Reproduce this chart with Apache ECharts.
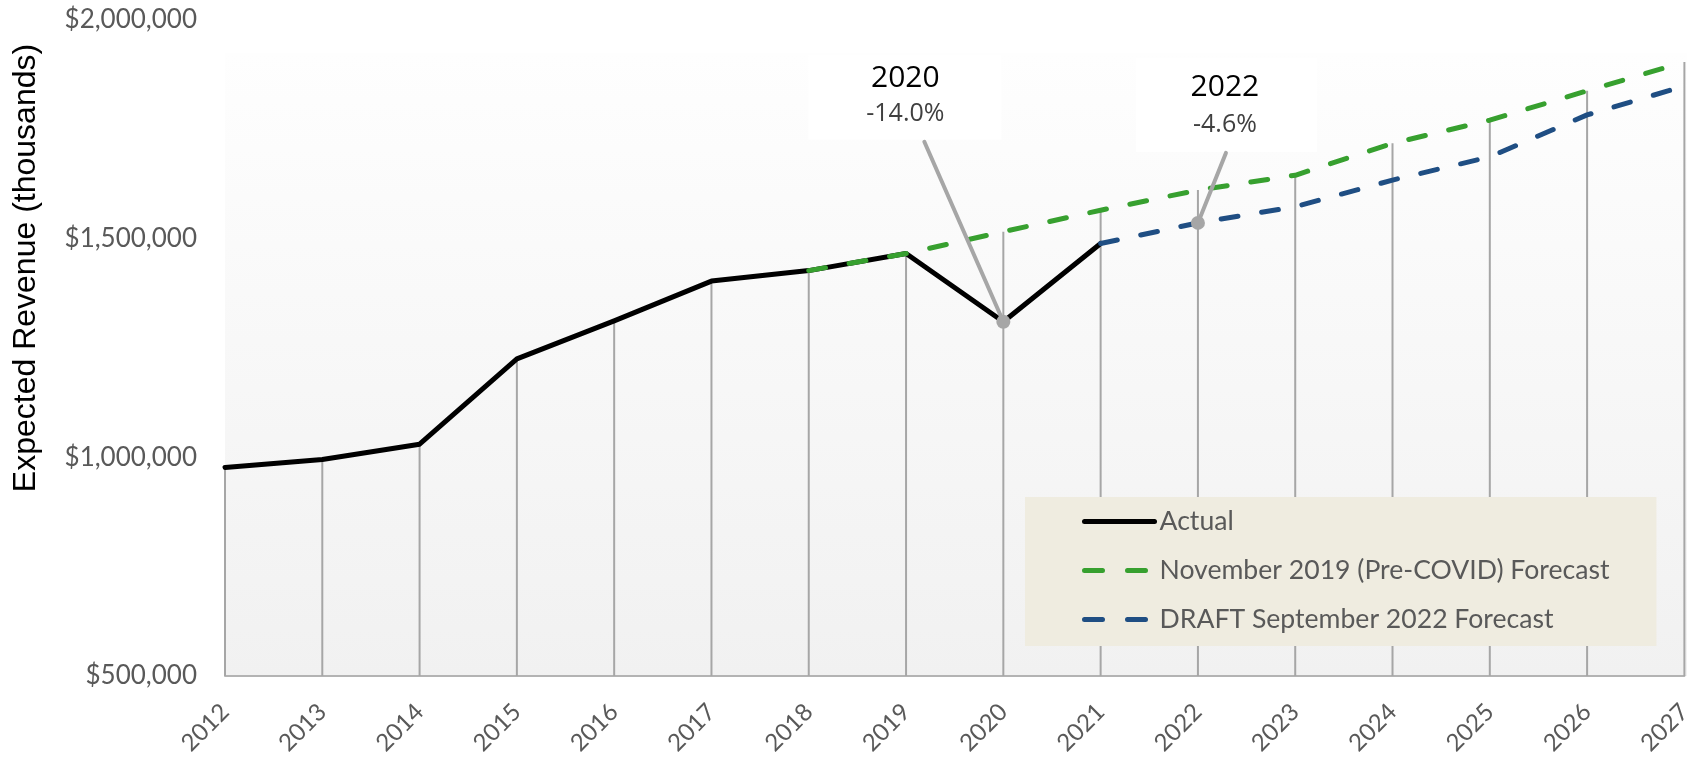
<!DOCTYPE html>
<html><head><meta charset="utf-8">
<script src="https://cdn.jsdelivr.net/npm/echarts@6/dist/echarts.min.js"></script>
<style>html,body{margin:0;padding:0;background:#fff}#c{width:1695px;height:761px}</style>
</head><body><div id="c"></div>
<script>
// ---- data ----
const years = ['2012','2013','2014','2015','2016','2017','2018','2019','2020','2021','2022','2023','2024','2025','2026','2027'];
const actual   = [977000, 995000, 1030000, 1225000, 1312000, 1403000, 1427000, 1466000, 1310000, 1489000, null, null, null, null, null, null];
const preCovid = [null, null, null, null, null, null, 1427000, 1466000, 1516000, 1565000, 1611000, 1645000, 1718000, 1771000, 1838000, 1904000];
const sept2022 = [null, null, null, null, null, null, null, null, null, 1489000, 1536000, 1573000, 1634000, 1687000, 1783000, 1849000];
const yMin = 500000, yMax = 2000000, yStep = 500000;
const seriesNames = ['Actual', 'November 2019 (Pre-COVID) Forecast', 'DRAFT September 2022 Forecast'];
const annoYears = ['2020', '2022'];
const annoPct = ['-14.0%', '-4.6%'];
const annoValues = [actual[years.indexOf('2020')], sept2022[years.indexOf('2022')]];

// ---- styles ----
const annoStyle = [
  {box:[-195,-267,193,85], year:[-98,-243], pct:[-98,-208], lead:[-79,-180]},
  {box:[-62,-165,181,94],  year:[27,-135],  pct:[27,-98],   lead:[28,-70]}
];
const GREEN = '#37a02f', BLUE = '#1f4e83', GRAY = '#a6a6a6';

const dropData = years.map((y, i) => {
  const vals = [actual[i], preCovid[i], sept2022[i]].filter(v => v != null);
  return [i, Math.max.apply(null, vals)];
});
const annoData = annoYears.map((y, k) => [years.indexOf(y), annoValues[k], k]);

const chart = echarts.init(document.getElementById('c'));
chart.setOption({
  animation: false,
  backgroundColor: '#ffffff',
  grid: {left: 225, right: 8, top: 20, bottom: 85, containLabel: false},
  graphic: [{
    type: 'rect', silent: true, z: -10,
    shape: {x: 225, y: 53, width: 1462, height: 623},
    style: {fill: new echarts.graphic.LinearGradient(0, 0, 0, 1, [
      {offset: 0, color: '#fefefe'}, {offset: 1, color: '#f1f1f1'}])}
  }],
  legend: {
    data: [
      {name: seriesNames[0], lineStyle: {width: 5, type: 'solid', cap: 'round'}},
      {name: seriesNames[1], lineStyle: {width: 5, type: [18, 25], cap: 'round'}},
      {name: seriesNames[2], lineStyle: {width: 5, type: [18, 25], cap: 'round'}}
    ],
    orient: 'vertical', left: 1025, top: 497,
    backgroundColor: '#efece0',
    padding: [11, 47, 13, 57],
    itemWidth: 70, itemHeight: 14, itemGap: 22,
    itemStyle: {opacity: 0},
    textStyle: {fontFamily: "Lato, sans-serif", fontSize: 26.6, color: '#595959', lineHeight: 24}
  },
  xAxis: {
    type: 'category', data: years, boundaryGap: false,
    axisLine: {lineStyle: {color: '#b3b3b3', width: 2}},
    axisTick: {show: false},
    splitLine: {show: false},
    axisLabel: {rotate: 45, margin: 32, fontFamily: 'Lato', fontSize: 24, color: '#595959'}
  },
  yAxis: {
    type: 'value', min: yMin, max: yMax, interval: yStep,
    name: 'Expected Revenue (thousands)', nameLocation: 'middle', nameGap: 183,
    nameTextStyle: {fontFamily: "'Liberation Sans', Arial, sans-serif", fontSize: 32, color: '#000', padding: [0, 0, 0, 160]},
    axisLine: {show: false}, axisTick: {show: false}, splitLine: {show: false},
    axisLabel: {margin: 28, fontFamily: 'Lato', fontSize: 26, color: '#595959',
      formatter: v => '$' + v.toLocaleString('en-US')}
  },
  series: [
    {
      type: 'custom', name: 'drop', silent: true, z: 1,
      encode: {x: 0, y: 1}, data: dropData,
      renderItem: (params, api) => {
        const top = api.coord([api.value(0), api.value(1)]);
        const bot = api.coord([api.value(0), yMin]);
        return {type: 'line', shape: {x1: top[0], y1: top[1], x2: bot[0], y2: bot[1]},
          style: {stroke: GRAY, lineWidth: 2}};
      }
    },
    {
      type: 'line', name: seriesNames[0], data: actual, symbol: 'none', z: 3,
      lineStyle: {color: '#000', width: 5, cap: 'round', join: 'round'}, itemStyle: {color: '#000'}
    },
    {
      type: 'line', name: seriesNames[1], data: preCovid, symbol: 'none', z: 4,
      lineStyle: {color: GREEN, width: 5, type: [17, 24], cap: 'round'}, itemStyle: {color: GREEN}
    },
    {
      type: 'line', name: seriesNames[2], data: sept2022, symbol: 'none', z: 4,
      lineStyle: {color: BLUE, width: 5, type: [17, 24], cap: 'round'}, itemStyle: {color: BLUE}
    },
    {
      type: 'custom', name: 'anno', silent: true, z: 10,
      encode: {x: 0, y: 1}, data: annoData,
      renderItem: (params, api) => {
        const k = api.value(2);
        const s = annoStyle[k];
        const p = api.coord([api.value(0), api.value(1)]);
        return {type: 'group', children: [
          {type: 'rect', shape: {x: p[0] + s.box[0], y: p[1] + s.box[1], width: s.box[2], height: s.box[3]},
            style: {fill: '#ffffff'}, z2: 0},
          {type: 'line', shape: {x1: p[0] + s.lead[0], y1: p[1] + s.lead[1], x2: p[0], y2: p[1]},
            style: {stroke: GRAY, lineWidth: 4, lineCap: 'round'}, z2: 1},
          {type: 'circle', shape: {cx: p[0], cy: p[1], r: 7}, style: {fill: GRAY}, z2: 2},
          {type: 'text', x: p[0] + s.year[0], y: p[1] + s.year[1], z2: 3,
            style: {text: annoYears[k], fontFamily: "'Open Sans', sans-serif", fontSize: 30, fontWeight: 500, fill: '#000',
              align: 'center', verticalAlign: 'middle'}},
          {type: 'text', x: p[0] + s.pct[0], y: p[1] + s.pct[1], z2: 3,
            style: {text: annoPct[k], fontFamily: "'Open Sans', sans-serif", fontSize: 25, fill: '#404040',
              align: 'center', verticalAlign: 'middle'}}
        ]};
      }
    }
  ]
});
</script>
</body></html>
